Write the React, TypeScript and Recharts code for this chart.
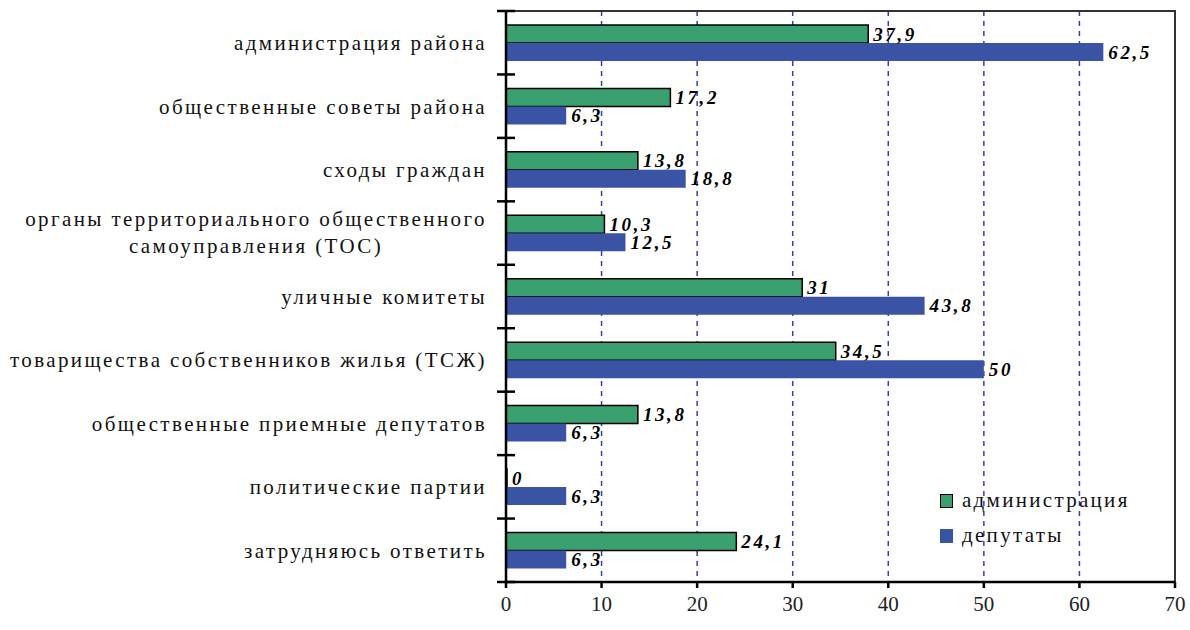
import React from 'react';
import {
  BarChart,
  Bar,
  XAxis,
  YAxis,
  CartesianGrid,
  Legend,
  LabelList,
  ReferenceArea
} from 'recharts';

const categories = [
  'администрация района',
  'общественные советы района',
  'сходы граждан',
  'органы территориального общественного\nсамоуправления (ТОС)',
  'уличные комитеты',
  'товарищества собственников жилья (ТСЖ)',
  'общественные приемные депутатов',
  'политические партии',
  'затрудняюсь ответить'
];
const adminValues = [37.9, 17.2, 13.8, 10.3, 31, 34.5, 13.8, 0, 24.1];
const deputyValues = [62.5, 6.3, 18.8, 12.5, 43.8, 50, 6.3, 6.3, 6.3];
const xTicks = [0, 10, 20, 30, 40, 50, 60, 70];
const seriesNames = { admin: 'администрация', deputies: 'депутаты' };

const data = categories.map((name, i) => ({
  name,
  admin: adminValues[i],
  deputies: deputyValues[i]
}));

const W = 1190;
const H = 630;
const MARGIN = { top: 11, right: 15, bottom: 0, left: 0 };
const Y_AXIS_W = 506;
const X_AXIS_H = 48;
const BAND = (H - MARGIN.top - MARGIN.bottom - X_AXIS_H) / categories.length;

const FONT = '"Liberation Serif", "Times New Roman", serif';
const GREEN = '#3aa06f';
const BLUE = '#3a53a5';

const fmt = (v: number) => String(v).replace('.', ',');

const catTextStyle = {
  fontFamily: FONT,
  fontSize: 21,
  letterSpacing: 2.4,
  fill: '#111'
};

function CategoryTick(props: any) {
  const { y, payload, index } = props;
  const lines: string[] = String(payload.value).split('\n');
  const axisX = Y_AXIS_W;
  const top = y - BAND / 2;
  const last = index === categories.length - 1;
  return (
    <g>
      <line x1={axisX - 9} x2={axisX + 9} y1={top} y2={top} stroke="#000" strokeWidth={2.5} />
      {last && (
        <line x1={axisX - 9} x2={axisX + 9} y1={top + BAND} y2={top + BAND} stroke="#000" strokeWidth={2.5} />
      )}
      {lines.length === 1 ? (
        <text x={487} y={y} dy="0.35em" textAnchor="end" style={catTextStyle}>
          {lines[0]}
        </text>
      ) : (
        <text x={256} y={y - 14 * (lines.length - 1)} textAnchor="middle" style={catTextStyle}>
          {lines.map((l, k) => (
            <tspan key={k} x={256} dy={k === 0 ? '0.35em' : 27}>
              {l}
            </tspan>
          ))}
        </text>
      )}
    </g>
  );
}

function ValueLabel(props: any) {
  const { x, y, width, height, value } = props;
  return (
    <text
      x={Number(x) + Number(width) + 5}
      y={Number(y) + Number(height) / 2}
      dy="0.35em"
      textAnchor="start"
      style={{
        fontFamily: FONT,
        fontSize: 19,
        fontWeight: 'bold',
        fontStyle: 'italic',
        letterSpacing: 2.6,
        fill: '#000'
      }}
    >
      {fmt(value)}
    </text>
  );
}

function LegendBox() {
  const items = [
    { label: seriesNames.admin, color: GREEN, border: '#000' },
    { label: seriesNames.deputies, color: BLUE, border: BLUE }
  ];
  return (
    <div style={{ fontFamily: FONT, fontSize: 21, letterSpacing: 2.3, color: '#111' }}>
      {items.map((it) => (
        <div key={it.label} style={{ display: 'flex', alignItems: 'center', height: 35 }}>
          <span
            style={{
              display: 'inline-block',
              width: 11,
              height: 12,
              background: it.color,
              border: `1.5px solid ${it.border}`,
              marginRight: 9
            }}
          />
          {it.label}
        </div>
      ))}
    </div>
  );
}

export default function App() {
  return (
    <div style={{ width: W, height: H, background: '#fff' }}>
      <style>{'body{margin:0;}'}</style>
      <BarChart
        width={W}
        height={H}
        data={data}
        layout="vertical"
        margin={MARGIN}
        barCategoryGap="22%"
        barGap={0}
      >
        <CartesianGrid
          horizontal={false}
          vertical
          stroke="#3a3ab5"
          strokeDasharray="5 5"
          strokeWidth={1.5}
        />
        <ReferenceArea x1={0} x2={70} fill="none" stroke="#333" strokeWidth={2} ifOverflow="visible" />
        <XAxis
          type="number"
          domain={[0, 70]}
          ticks={xTicks}
          interval={0}
          height={X_AXIS_H}
          axisLine={{ stroke: '#000', strokeWidth: 2.5 }}
          tickLine={{ stroke: '#000', strokeWidth: 2.5 }}
          tickSize={6}
          tickMargin={8}
          tick={{ fill: '#222', fontFamily: FONT, fontSize: 21 }}
        />
        <YAxis
          type="category"
          dataKey="name"
          width={Y_AXIS_W}
          interval={0}
          axisLine={{ stroke: '#000', strokeWidth: 2.5 }}
          tickLine={false}
          tick={<CategoryTick />}
        />
        <Legend
          layout="vertical"
          verticalAlign="middle"
          align="center"
          content={() => <LegendBox />}
          wrapperStyle={{ position: 'absolute', top: 483, left: 940, width: 230 }}
        />
        <Bar
          dataKey="admin"
          name={seriesNames.admin}
          fill={GREEN}
          stroke="#000"
          strokeWidth={1.5}
          minPointSize={1}
          isAnimationActive={false}
        >
          <LabelList dataKey="admin" content={<ValueLabel />} />
        </Bar>
        <Bar
          dataKey="deputies"
          name={seriesNames.deputies}
          fill={BLUE}
          isAnimationActive={false}
        >
          <LabelList dataKey="deputies" content={<ValueLabel />} />
        </Bar>
      </BarChart>
    </div>
  );
}
